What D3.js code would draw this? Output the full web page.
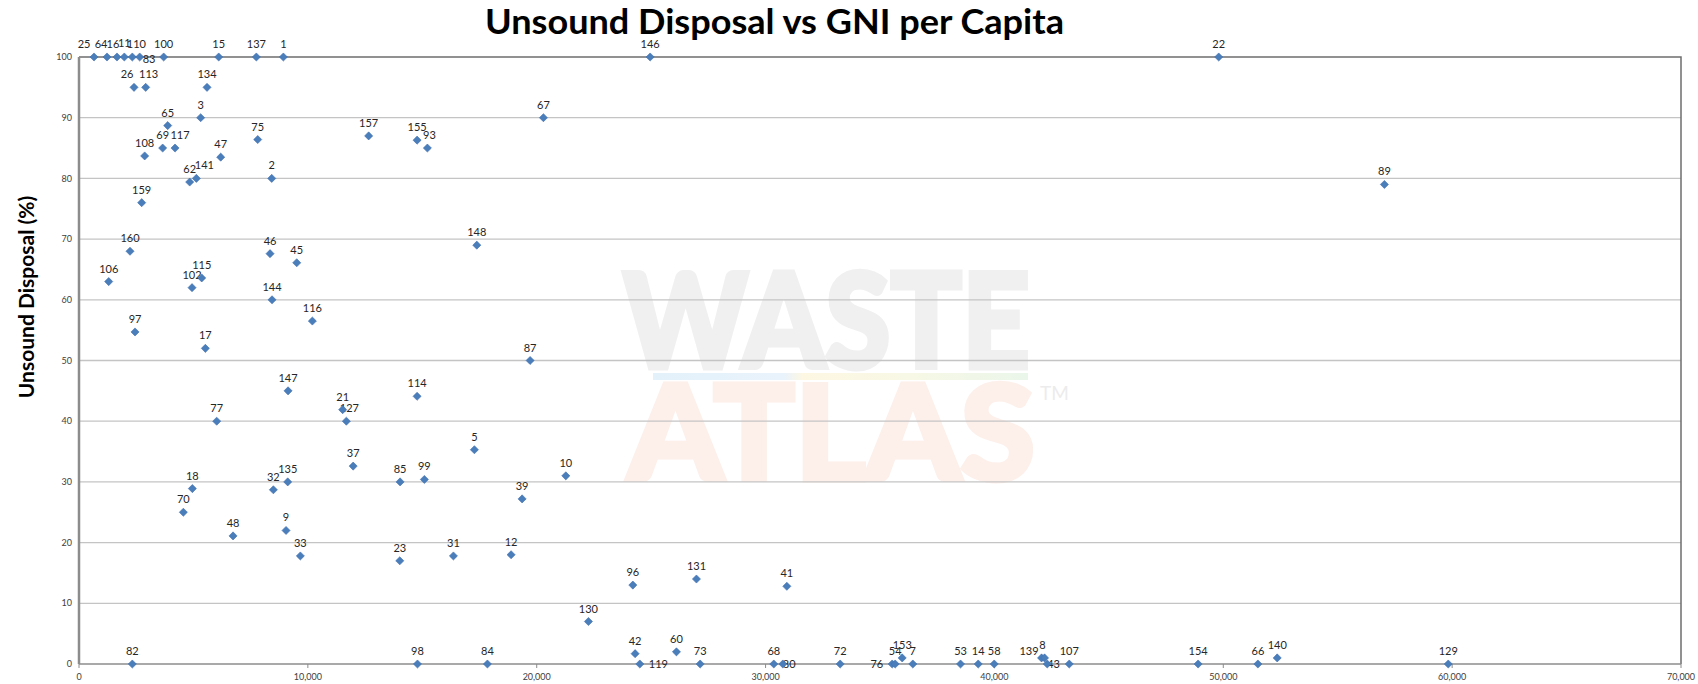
<!DOCTYPE html>
<html lang="en">
<head>
<meta charset="utf-8">
<title>Unsound Disposal vs GNI per Capita</title>
<style>
body {
  margin: 0;
  background: #fff;
}

text {
  font-family: Lato, "Open Sans", sans-serif;
}

.grid line {
  stroke: #c4c4c4;
  stroke-width: 1.3px;
}

.tick-label {
  font-size: 9px;
  fill: #404040;
}

.point-label {
  font-size: 11px;
  fill: #262626;
}
</style>
</head>
<body>
<div id="chart"></div>
<script src="https://cdn.jsdelivr.net/npm/d3@7"></script>
<script>

// country ids, GNI per capita (US$) and share of unsound disposal (%)
var ids = [25, 64, 16, 11, 110, 83, 100, 15, 137, 1, 146, 22,
  26, 113, 134, 3, 67, 65, 157, 75, 155, 69, 117, 93, 108, 47,
  141, 2, 62, 89, 159, 148, 160, 46, 45, 115, 106, 102, 144, 116,
  97, 17, 87, 147, 114, 21, 77, 127, 5, 37, 10, 99, 135, 85,
  18, 32, 39, 70, 9, 48, 12, 33, 31, 23, 131, 96, 41, 130,
  60, 42, 140, 153, 139, 8, 82, 98, 84, 119, 73, 68, 80, 72,
  76, 54, 7, 53, 14, 58, 43, 107, 154, 66, 129];

var gni = [656, 1224, 1660, 1980, 2330, 2652, 3700, 6105, 7750, 8930, 24956, 49800,
  2404, 2914, 5594, 5317, 20293, 3876, 12657, 7809, 14773, 3656, 4196, 15223, 2870, 6192,
  5127, 8421, 4837, 57040, 2739, 17382, 2229, 8348, 9514, 5362, 1298, 4939, 8435, 10197,
  2448, 5521, 19712, 9135, 14773, 11521, 6017, 11682, 17277, 11980, 21271, 15091, 9120, 14030,
  4953, 8493, 19362, 4560, 9047, 6731, 18881, 9672, 16360, 14016, 26980, 24200, 30930, 22260,
  26106, 24300, 52356, 35970, 42059, 42190, 2330, 14790, 17846, 24506, 27142, 30360, 30754, 33260,
  35533, 35664, 36434, 38519, 39292, 39991, 42308, 43269, 48900, 51512, 59830];

var unsound = [100, 100, 100, 100, 100, 100, 100, 100, 100, 100, 100, 100,
  95, 95, 95, 90, 90, 88.7, 87, 86.4, 86.3, 85, 85, 85, 83.7, 83.5,
  80, 80, 79.4, 79, 76, 69, 68, 67.6, 66.1, 63.6, 63, 62, 60, 56.5,
  54.7, 52, 50, 45, 44.1, 41.9, 40, 40, 35.3, 32.6, 31, 30.4, 30, 30,
  28.9, 28.7, 27.2, 25, 22, 21.1, 18, 17.8, 17.8, 17, 14, 13, 12.8, 7,
  2, 1.7, 1, 1, 1, 1, 0, 0, 0, 0, 0, 0, 0, 0,
  0, 0, 0, 0, 0, 0, 0, 0, 0, 0, 0];

var xTicks = [0, 10000, 20000, 30000, 40000, 50000, 60000, 70000];
var yTicks = [0, 10, 20, 30, 40, 50, 60, 70, 80, 90, 100];

// hand-moved labels: [dx, dy, anchor]; everything else sits centred above its point
var labelNudge = {
  25: [-10, -9, "middle"], 64: [-6, -9, "middle"], 16: [-4, -9, "middle"],
  11: [0, -10, "middle"], 110: [4, -9, "middle"], 26: [-7, -9, "middle"],
  113: [3, -9, "middle"], 117: [5, -9, "middle"], 141: [8, -9, "middle"],
  93: [2, -9, "middle"], 127: [3, -9, "middle"], 8: [-2, -9, "middle"],
  83: [3, 6, "start"], 119: [9, 4, "start"], 80: [0, 4, "start"],
  43: [0, 4, "start"], 76: [-9, 4, "end"], 139: [-3, -3, "end"]
};

var width = 1698,
    height = 684,
    margin = { top: 57, right: 17, bottom: 20, left: 79 };

var svg = d3.select("#chart")
  .append("svg")
    .attr("width", width)
    .attr("height", height);

var x = d3.scaleLinear()
    .domain([0, 70000])
    .range([margin.left, width - margin.right]);

var y = d3.scaleLinear()
    .domain([0, 100])
    .range([height - margin.bottom, margin.top]);

// watermark behind the plot
var wm = svg.append("g").attr("class", "watermark");
wm.append("text")
    .attr("x", 623).attr("y", 368)
    .attr("textLength", 407).attr("lengthAdjust", "spacingAndGlyphs")
    .style("font-size", "132px").style("font-weight", 900)
    .attr("fill", "#f0f0f0")
    .attr("stroke", "#f0f0f0").attr("stroke-width", 5)
    .text("WASTE");
wm.append("text")
    .attr("x", 628).attr("y", 480)
    .attr("textLength", 407).attr("lengthAdjust", "spacingAndGlyphs")
    .style("font-size", "132px").style("font-weight", 900)
    .attr("fill", "#fdefea")
    .attr("stroke", "#fdefea").attr("stroke-width", 5)
    .text("ATLAS");
wm.append("text")
    .attr("x", 1040).attr("y", 400)
    .style("font-size", "19px")
    .attr("fill", "#ececec")
    .text("TM");

var grad = svg.append("defs").append("linearGradient")
    .attr("id", "wmbar");
grad.append("stop").attr("offset", "0%").attr("stop-color", "#e3f1fb");
grad.append("stop").attr("offset", "35%").attr("stop-color", "#e9f3fb");
grad.append("stop").attr("offset", "40%").attr("stop-color", "#fdf7e2");
grad.append("stop").attr("offset", "70%").attr("stop-color", "#f7f8e6");
grad.append("stop").attr("offset", "100%").attr("stop-color", "#eaf6ea");
wm.append("rect")
    .attr("x", 653).attr("y", 373)
    .attr("width", 375).attr("height", 7)
    .attr("fill", "url(#wmbar)");

// horizontal gridlines
svg.append("g")
    .attr("class", "grid")
  .selectAll("line")
  .data(yTicks.filter(function(d) { return d > 0 && d < 100; }))
  .enter().append("line")
    .attr("x1", x(0))
    .attr("x2", x(70000))
    .attr("y1", function(d) { return y(d); })
    .attr("y2", function(d) { return y(d); });

// plot frame: top and right
svg.append("path")
    .attr("d", "M" + x(0) + "," + y(100) + "H" + x(70000) + "V" + y(0))
    .attr("fill", "none")
    .attr("stroke", "#6e6e6e")
    .attr("stroke-width", 1.5);

// x axis
svg.append("line")
    .attr("x1", x(0)).attr("x2", x(70000))
    .attr("y1", y(0)).attr("y2", y(0))
    .attr("stroke", "#8c8c8c")
    .attr("stroke-width", 1.3);

svg.append("g")
  .selectAll("line")
  .data(xTicks)
  .enter().append("line")
    .attr("x1", function(d) { return x(d); })
    .attr("x2", function(d) { return x(d); })
    .attr("y1", y(0))
    .attr("y2", y(0) + 4)
    .attr("stroke", "#8c8c8c");

svg.append("g")
  .selectAll("text")
  .data(xTicks)
  .enter().append("text")
    .attr("class", "tick-label")
    .attr("x", function(d) { return x(d); })
    .attr("y", y(0) + 16)
    .attr("text-anchor", "middle")
    .text(d3.format(","));

// y axis
svg.append("line")
    .attr("x1", x(0)).attr("x2", x(0))
    .attr("y1", y(100)).attr("y2", y(0))
    .attr("stroke", "#8c8c8c")
    .attr("stroke-width", 2.5);

svg.append("g")
  .selectAll("text")
  .data(yTicks)
  .enter().append("text")
    .attr("class", "tick-label")
    .attr("x", x(0) - 7)
    .attr("y", function(d) { return y(d); })
    .attr("dy", "0.35em")
    .attr("text-anchor", "end")
    .text(function(d) { return d; });

// titles
svg.append("text")
    .attr("x", 485)
    .attr("y", 34)
    .attr("textLength", 579)
    .attr("lengthAdjust", "spacingAndGlyphs")
    .style("font-size", "35px")
    .style("font-weight", "bold")
    .attr("fill", "#000")
    .text("Unsound Disposal vs GNI per Capita");

svg.append("text")
    .attr("transform", "translate(34,297) rotate(-90)")
    .attr("text-anchor", "middle")
    .style("font-size", "21px")
    .style("font-weight", "bold")
    .attr("fill", "#000")
    .text("Unsound Disposal (%)");

// points
var points = ids.map(function(id, i) {
  return { id: id, gni: gni[i], unsound: unsound[i] };
});

var diamond = d3.symbol().type(d3.symbolDiamond2 || d3.symbolDiamond).size(42);

function nudge(d) {
  return labelNudge[d.id] || [0, -9, "middle"];
}

svg.append("g")
  .selectAll("text")
  .data(points)
  .enter().append("text")
    .attr("class", "point-label")
    .attr("x", function(d) { return x(d.gni) + nudge(d)[0]; })
    .attr("y", function(d) { return y(d.unsound) + nudge(d)[1]; })
    .attr("text-anchor", function(d) { return nudge(d)[2]; })
    .text(function(d) { return d.id; });

svg.append("g")
  .selectAll("path")
  .data(points)
  .enter().append("path")
    .attr("d", diamond)
    .attr("transform", function(d) {
      return "translate(" + x(d.gni) + "," + y(d.unsound) + ")";
    })
    .attr("fill", "#4a7ebb")
    .attr("stroke", "#3f6fae")
    .attr("stroke-width", 0.6);

</script>
</body>
</html>
